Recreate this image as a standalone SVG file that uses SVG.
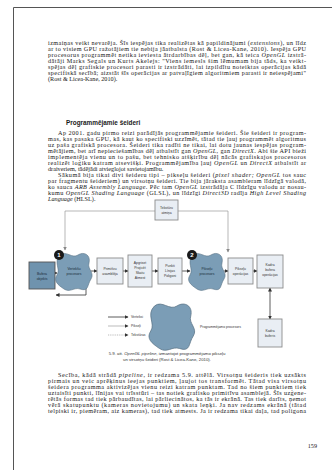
<svg xmlns="http://www.w3.org/2000/svg" width="332" height="470" viewBox="0 0 332 470">
<style>
.bd{fill:#161616;font-family:"Liberation Serif",serif;font-size:6.2px}
.it{font-style:italic}
.hd{fill:#1a1a1a;font-family:"Liberation Sans",sans-serif;font-size:6.4px;font-weight:bold}
.lb{fill:#333;font-family:"Liberation Sans",sans-serif;font-size:3.4px;text-anchor:middle}
.lbw{fill:#1a2a38;font-family:"Liberation Sans",sans-serif;font-size:3.4px;text-anchor:middle}
.lg{fill:#333;font-family:"Liberation Sans",sans-serif;font-size:3.4px}
.cap{fill:#333;font-family:"Liberation Sans",sans-serif;font-size:4.3px;text-anchor:middle}
.lbox{fill:#e9eef4;stroke:#8c8c8c;stroke-width:0.9}
.dbox{fill:#6f93ae;stroke:#555;stroke-width:0.9}
.blob{fill:#7b9db6;stroke:#5a7386;stroke-width:0.6}
.c{fill:none;stroke:#333;stroke-width:0.8}
.t{fill:none;stroke:#9a9a9a;stroke-width:0.7}
.p{fill:none;stroke:#777;stroke-width:0.5}
.badge{fill:#1a1a1a}
.bt{fill:#fff;font-family:"Liberation Sans",sans-serif;font-size:6px;font-weight:bold;text-anchor:middle}
</style>
<defs>
<marker id="a" markerWidth="4" markerHeight="4" refX="3.5" refY="2" orient="auto" markerUnits="userSpaceOnUse"><path d="M0,0 L4,2 L0,4 Z" fill="#333"/></marker>
<marker id="as" markerWidth="4" markerHeight="4" refX="0.5" refY="2" orient="auto" markerUnits="userSpaceOnUse"><path d="M4,0 L0,2 L4,4 Z" fill="#333"/></marker>
<marker id="ag" markerWidth="4" markerHeight="4" refX="3.5" refY="2" orient="auto" markerUnits="userSpaceOnUse"><path d="M0,0 L4,2 L0,4 Z" fill="#888"/></marker>
<path id="blob" d="M-14,-16 C-8,-21 -2,-12 4,-16 C10,-20 17,-16 15,-8 C13,-2 21,2 17,8 C13,14 15,21 6,18 C0,16 -4,22 -10,18 C-16,14 -21,10 -17,4 C-13,-2 -21,-9 -14,-16 Z"/>
</defs>
<rect width="332" height="470" fill="#fff"/>
<path d="M13.5,470 V7.5 H332" fill="none" stroke="#555" stroke-width="1"/>

<g id="para1">
<text class="bd" x="48" y="45" textLength="258" lengthAdjust="spacing">izmaiņas veikt nevarēja. Šīs iespējas tika realizētas kā papildinājumi (<tspan class="it">extensions</tspan>), un līdz</text>
<text class="bd" x="48" y="51" textLength="258" lengthAdjust="spacing">ar to visiem GPU ražotājiem tie nebija jāatbalsta (Rost &amp; Licea-Kane, 2010). Iespēja GPU</text>
<text class="bd" x="48" y="57" textLength="258" lengthAdjust="spacing">procesorus programmēt netika ieviesta ātrdarbības dēļ, bet gan, kā teica <tspan class="it">OpenGL</tspan> izstrā-</text>
<text class="bd" x="48" y="63" textLength="258" lengthAdjust="spacing">dātāji Marks Segals un Kurts Akelejs: "Viens iemesls šim lēmumam bija tāds, ka veikt-</text>
<text class="bd" x="48" y="69" textLength="258" lengthAdjust="spacing">spējas dēļ grafiskie procesori parasti ir izstrādāti, lai izpildītu noteiktas operācijas kādā</text>
<text class="bd" x="48" y="75" textLength="258" lengthAdjust="spacing">specifiskā secībā; aizstāt šīs operācijas ar patvaļīgiem algoritmiem parasti ir neiespējami"</text>
<text class="bd" x="48" y="81">(Rost &amp; Licea-Kane, 2010).</text>
</g>

<g id="heading">
<text class="hd" x="66" y="125">Programmējamie šeideri</text>
</g>

<g id="para2">
<text class="bd" x="58" y="135" textLength="248" lengthAdjust="spacing">Ap 2001. gadu pirmo reizi parādījās programmējamie šeideri. Šie šeideri ir program-</text>
<text class="bd" x="48" y="141" textLength="258" lengthAdjust="spacing">mas, kas pasaka GPU, kā kaut ko specifiski uzzīmēt, tātad tie ļauj programmēt algoritmus</text>
<text class="bd" x="48" y="147" textLength="258" lengthAdjust="spacing">uz paša grafiskā procesora. Šeideri tika radīti ne tikai, lai dotu jaunas iespējas program-</text>
<text class="bd" x="48" y="153" textLength="258" lengthAdjust="spacing">mētājiem, bet arī nepieciešamības dēļ atbalstīt gan <tspan class="it">OpenGL</tspan>, gan <tspan class="it">DirectX</tspan>. Abi šie API bieži</text>
<text class="bd" x="48" y="159" textLength="258" lengthAdjust="spacing">implementēja vienu un to pašu, bet tehnisko atšķirību dēļ nācās grafiskajos procesoros</text>
<text class="bd" x="48" y="165" textLength="258" lengthAdjust="spacing">realizēt loģiku katram atsevišķi. Programmējamība ļauj <tspan class="it">OpenGL</tspan> un <tspan class="it">DirectX</tspan> atbalstīt ar</text>
<text class="bd" x="48" y="171">draiveriem, tādējādi atvieglojot savietojamību.</text>
<text class="bd" x="58" y="177" textLength="248" lengthAdjust="spacing">Sākumā bija tikai divi šeideru tipi – pikseļu šeideri (<tspan class="it">pixel shader; OpenGL</tspan> tos sauc</text>
<text class="bd" x="48" y="183" textLength="258" lengthAdjust="spacing">par fragmentu šeideriem) un virsotņu šeideri. Tie bija jāraksta asambleram līdzīgā valodā,</text>
<text class="bd" x="48" y="189" textLength="258" lengthAdjust="spacing">ko sauca <tspan class="it">ARB Assembly Language</tspan>. Pēc tam <tspan class="it">OpenGL</tspan> izstrādāja C līdzīgu valodu ar nosau-</text>
<text class="bd" x="48" y="195" textLength="258" lengthAdjust="spacing">kumu <tspan class="it">OpenGL Shading Language</tspan> (GLSL), un līdzīgi <tspan class="it">Direct3D</tspan> radīja <tspan class="it">High Level Shading</tspan></text>
<text class="bd" x="48" y="201"><tspan class="it">Language</tspan> (HLSL).</text>
</g>

<g id="connectors">
<path class="t" d="M155,211 H65 V250" marker-end="url(#ag)"/>
<path class="t" d="M178,211 H228 V252" marker-end="url(#ag)"/>
<path class="c" d="M55,273 H57" marker-end="url(#a)"/>
<path class="c" d="M86,288 V295 H56" marker-end="url(#a)"/>
<path class="c" d="M91,271 H97" marker-end="url(#a)"/>
<path class="c" d="M123,271 H128" marker-end="url(#a)"/>
<path class="c" d="M152,271 H158" marker-end="url(#a)"/>
<path class="c" d="M182,271 H190" marker-end="url(#a)"/>
<path class="c" d="M224,271 H228" marker-end="url(#a)"/>
<path class="c" d="M253,271 H257" marker-end="url(#a)"/>
<path class="c" d="M270,288 V319" marker-start="url(#as)" marker-end="url(#a)"/>
</g>

<g id="tex">
<rect class="lbox" x="155" y="200" width="23" height="20"/>
<text class="lb" x="166.5" y="209">Tekstūru</text>
<text class="lb" x="166.5" y="214">atmiņa</text>
</g>

<g id="bufobj">
<rect class="dbox" x="29" y="262" width="26" height="27"/>
<text class="lbw" x="42" y="274.5">Bufera</text>
<text class="lbw" x="42" y="279.5">objekts</text>
</g>

<g id="vproc">
<use href="#blob" class="blob" transform="translate(74,271)"/>
<text class="lbw" x="74" y="270">Vertekšu</text>
<text class="lbw" x="74" y="275">procesors</text>
<circle class="badge" cx="59" cy="255" r="5"/>
<text class="bt" x="59" y="257.2">1</text>
</g>

<g id="prim">
<rect class="lbox" x="97" y="258" width="26" height="26"/>
<text class="lb" x="110" y="270">Primitīvu</text>
<text class="lb" x="110" y="275">asamblēja</text>
</g>

<g id="clip">
<rect class="lbox" x="128" y="255" width="24" height="32"/>
<text class="lb" x="140" y="264">Apgriezt</text>
<text class="lb" x="140" y="269">Projicēt</text>
<text class="lb" x="140" y="274">Skatu</text>
<text class="lb" x="140" y="279">Atmest</text>
</g>

<g id="points">
<rect class="lbox" x="158" y="258" width="24" height="26"/>
<text class="lb" x="170" y="266.5">Punkti</text>
<text class="lb" x="170" y="271.5">Līnijas</text>
<text class="lb" x="170" y="276.5">Poligoni</text>
</g>

<g id="pproc">
<use href="#blob" class="blob" transform="translate(207,271)"/>
<text class="lbw" x="207" y="270">Pikseļu</text>
<text class="lbw" x="207" y="275">procesors</text>
<circle class="badge" cx="192" cy="255" r="5"/>
<text class="bt" x="192" y="257.2">2</text>
</g>

<g id="pixops">
<rect class="lbox" x="228" y="258" width="25" height="26"/>
<text class="lb" x="240.5" y="270">Pikseļu</text>
<text class="lb" x="240.5" y="275">operācijas</text>
</g>

<g id="fbops">
<rect class="lbox" x="257" y="255" width="26" height="33"/>
<text class="lb" x="270" y="266">Kadra</text>
<text class="lb" x="270" y="271">bufera</text>
<text class="lb" x="270" y="276">operācijas</text>
</g>

<g id="fb">
<rect class="lbox" x="258" y="319" width="24" height="28"/>
<text class="lb" x="270" y="331.5">Kadra</text>
<text class="lb" x="270" y="336.5">buferis</text>
</g>

<g id="legend">
<path class="c" d="M108,317 H128" marker-end="url(#a)"/>
<path class="p" d="M108,326 H128" marker-end="url(#a)"/>
<path class="p" d="M108,335 H128" stroke-dasharray="1,0.8" marker-end="url(#a)"/>
<text class="lg" x="131" y="318.2">Verteksi</text>
<text class="lg" x="131" y="327.2">Pikseļi</text>
<text class="lg" x="131" y="336.2">Tekstūras</text>
<use href="#blob" class="blob" transform="translate(172,326) scale(1.25)"/>
<text class="lg" x="200" y="328">Programmējamo procesors</text>
</g>

<g id="caption">
<text class="cap" x="167" y="355">5.9. att. <tspan font-style="italic">OpenGL pipeline</tspan>, izmantojot programmējamo pikseļu</text>
<text class="cap" x="167" y="361">un virsotņu šeideri (Rost &amp; Licea-Kane, 2010).</text>
</g>

<g id="para3">
<text class="bd" x="58" y="377" textLength="248" lengthAdjust="spacing">Secība, kādā strādā <tspan class="it">pipeline</tspan>, ir redzama 5.9. attēlā. Virsotņu šeideris tiek uzsākts</text>
<text class="bd" x="48" y="383" textLength="258" lengthAdjust="spacing">pirmais un veic aprēķinus ieejas punktiem, ļaujot tos transformēt. Tātad visa virsotņu</text>
<text class="bd" x="48" y="389" textLength="258" lengthAdjust="spacing">šeidera programma aktivizējas vienu reizi katram punktam. Tad no šiem punktiem tiek</text>
<text class="bd" x="48" y="395" textLength="258" lengthAdjust="spacing">uztaisīti punkti, līnijas vai trīsstūri – tas notiek grafisko primitīvu asamblejā. Šīs uzģene-</text>
<text class="bd" x="48" y="401" textLength="258" lengthAdjust="spacing">rētās formas tad tiek pārbaudītas, lai pārliecinātos, ka tās ir ekrānā. Tas tiek darīts, ņemot</text>
<text class="bd" x="48" y="407" textLength="258" lengthAdjust="spacing">vērā skatupunktu (kameras novietojumu) un skata leņķi. Ja nav redzams ekrānā (tātad</text>
<text class="bd" x="48" y="413" textLength="258" lengthAdjust="spacing">telpiski ir, piemēram, aiz kameras), tad tiek atmests. Ja ir redzama tikai daļa, tad poligona</text>
</g>

<g id="pagenum">
<text class="bd" x="317" y="448" text-anchor="end">159</text>
</g>
</svg>
